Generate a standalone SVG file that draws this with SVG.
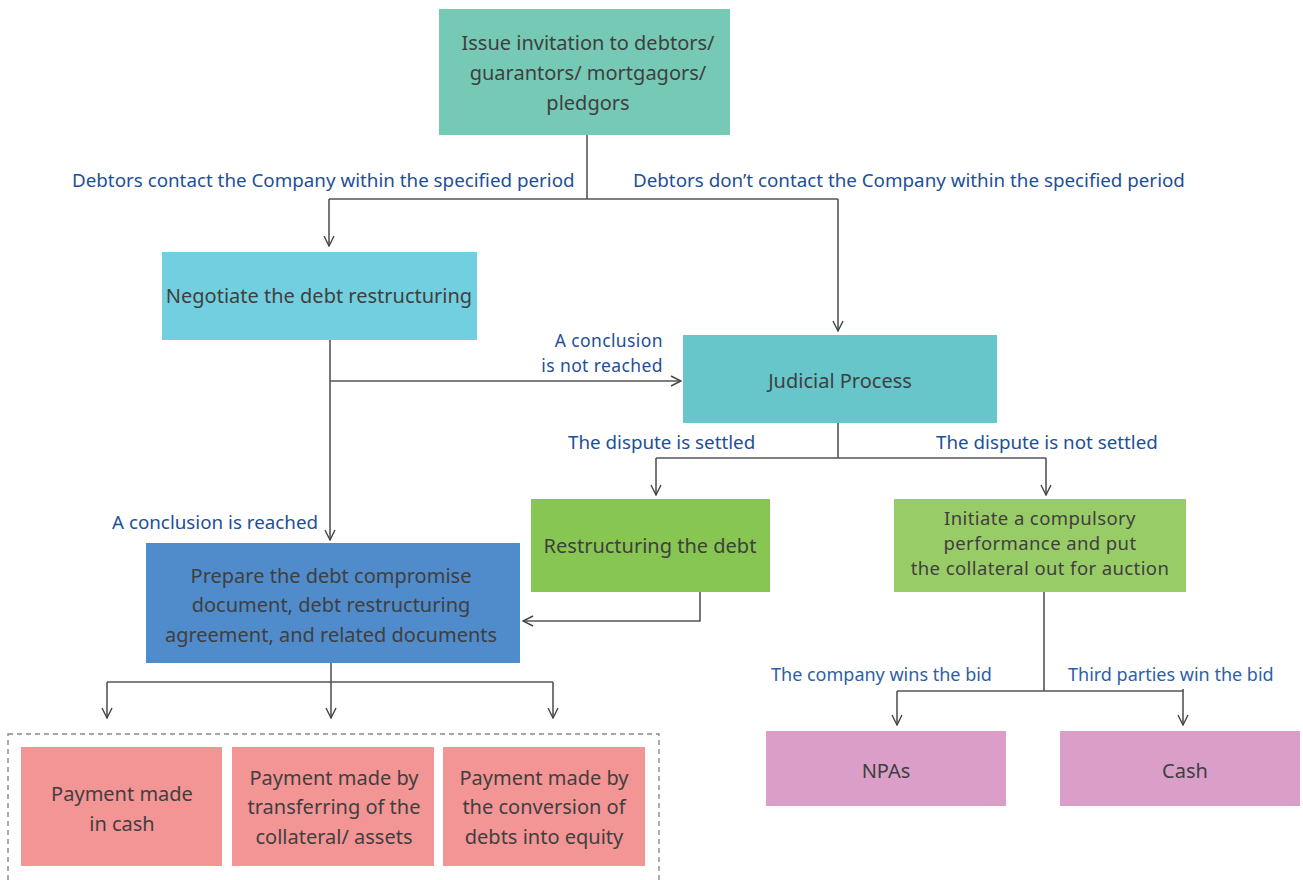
<svg xmlns="http://www.w3.org/2000/svg" width="1303" height="880" viewBox="0 0 1303 880">
<defs>
<marker id="arr" viewBox="0 0 12 12" refX="11" refY="6" markerWidth="12" markerHeight="12" markerUnits="userSpaceOnUse" orient="auto">
<path d="M1,1 L11,6 L1,11" fill="none" stroke="#444" stroke-width="1.4"/>
</marker>
<style>
.bx text{font-family:"Noto Sans","Open Sans",sans-serif;font-size:20px;fill:#3f3f3f;text-anchor:middle}
.bx text.sm{font-size:18.5px;letter-spacing:0.4px}
.lbl{font-family:"Noto Sans","Open Sans",sans-serif;font-size:18.8px;fill:#1d4f99}
.lbl.sm{font-size:17.5px;letter-spacing:0.4px}
.lbl2{font-family:"Noto Sans","Open Sans",sans-serif;font-size:18px;fill:#2e5fa6}
.ln{fill:none;stroke:#555;stroke-width:1.6}
.ar{fill:none;stroke:#555;stroke-width:1.6;marker-end:url(#arr)}
</style>
</defs>
<rect width="1303" height="880" fill="#fff"/>
<g id="connectors">
<path class="ln" d="M587,135 V199 M329,199 H838"/>
<path class="ar" d="M329,199 V246"/>
<path class="ar" d="M838,199 V331"/>
<path class="ar" d="M330,340 V540"/>
<path class="ar" d="M330,381 H681"/>
<path class="ln" d="M838,423 V458 M656,458 H1046"/>
<path class="ar" d="M656,458 V495"/>
<path class="ar" d="M1046,458 V495"/>
<path class="ar" d="M700,592 V621 H523"/>
<path class="ln" d="M331,663 V682 M107,682 H553"/>
<path class="ar" d="M107,682 V718"/>
<path class="ar" d="M331,682 V718"/>
<path class="ar" d="M553,682 V718"/>
<path class="ln" d="M1044,592 V691 M897,691 H1183 V689"/>
<path class="ar" d="M897,691 V725"/>
<path class="ar" d="M1183,691 V725"/>
<rect x="8" y="734" width="651" height="160" fill="none" stroke="#888" stroke-width="1.4" stroke-dasharray="5,4"/>
<text class="lbl" x="72" y="187">Debtors contact the Company within the specified period</text>
<text class="lbl" x="633" y="187">Debtors don’t contact the Company within the specified period</text>
<text class="lbl sm" x="663" y="347" text-anchor="end">A conclusion</text>
<text class="lbl sm" x="663" y="372" text-anchor="end">is not reached</text>
<text class="lbl" x="568" y="449">The dispute is settled</text>
<text class="lbl" x="936" y="449">The dispute is not settled</text>
<text class="lbl" x="112" y="529">A conclusion is reached</text>
<text class="lbl2" x="771" y="681">The company wins the bid</text>
<text class="lbl2" x="1068" y="681">Third parties win the bid</text>
</g>
<g id="n-issue" class="bx"><rect x="439" y="9" width="291" height="126" fill="#75C9B5"/>
<text x="588" y="50">Issue invitation to debtors/</text><text x="588" y="80">guarantors/ mortgagors/</text><text x="588" y="110">pledgors</text></g>
<g id="n-negotiate" class="bx"><rect x="162" y="252" width="315" height="88" fill="#72CFDF"/>
<text x="319" y="303">Negotiate the debt restructuring</text></g>
<g id="n-judicial" class="bx"><rect x="683" y="335" width="314" height="88" fill="#66C6C9"/>
<text x="840" y="388">Judicial Process</text></g>
<g id="n-restructure" class="bx"><rect x="531" y="499" width="239" height="93" fill="#88C653"/>
<text x="650" y="553">Restructuring the debt</text></g>
<g id="n-initiate" class="bx"><rect x="894" y="499" width="292" height="93" fill="#98CC66"/>
<text class="sm" x="1040" y="525">Initiate a compulsory</text><text class="sm" x="1040" y="550">performance and put</text><text class="sm" x="1040" y="575">the collateral out for auction</text></g>
<g id="n-prepare" class="bx"><rect x="146" y="543" width="374" height="120" fill="#508BCB"/>
<text x="331" y="583">Prepare the debt compromise</text><text x="331" y="612">document, debt restructuring</text><text x="331" y="642">agreement, and related documents</text></g>
<g id="n-cash-pay" class="bx"><rect x="21" y="747" width="201" height="119" fill="#F39595"/>
<text x="122" y="801">Payment made</text><text x="122" y="831">in cash</text></g>
<g id="n-transfer" class="bx"><rect x="232" y="747" width="202" height="119" fill="#F39595"/>
<text x="334" y="785">Payment made by</text><text x="334" y="814">transferring of the</text><text x="334" y="844">collateral/ assets</text></g>
<g id="n-equity" class="bx"><rect x="443" y="747" width="202" height="119" fill="#F39595"/>
<text x="544" y="785">Payment made by</text><text x="544" y="814">the conversion of</text><text x="544" y="844">debts into equity</text></g>
<g id="n-npas" class="bx"><rect x="766" y="731" width="240" height="75" fill="#DB9EC8"/>
<text x="886" y="778">NPAs</text></g>
<g id="n-cash" class="bx"><rect x="1060" y="731" width="240" height="75" fill="#DB9EC8"/>
<text x="1185" y="778">Cash</text></g>
</svg>
